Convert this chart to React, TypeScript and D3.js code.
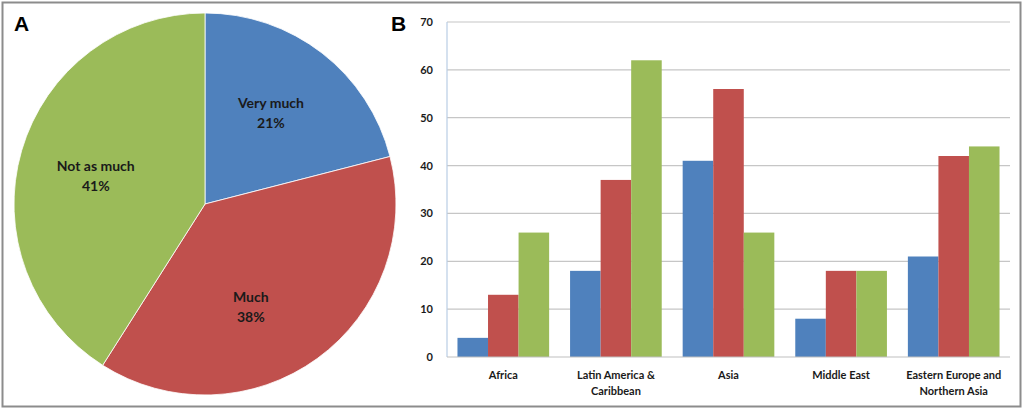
import { useEffect, useRef } from 'react';
import * as d3 from 'd3';

const pieLabels = ["Very much", "Much", "Not as much"];
const pieValues = [21, 38, 41];
const pieColors = ["#4f81bd", "#c0504d", "#9bbb59"];
// small angular nudge (degrees) for label placement, like Excel's best-fit
const pieLabelShift = [-2, 12, -2];

const regions = ["Africa", "Latin America & Caribbean", "Asia", "Middle East", "Eastern Europe and Northern Asia"];
const regionLines = [["Africa"], ["Latin America &", "Caribbean"], ["Asia"], ["Middle East"], ["Eastern Europe and", "Northern Asia"]];
const seriesVeryMuch = [4, 18, 41, 8, 21];
const seriesMuch = [13, 37, 56, 18, 42];
const seriesNotAsMuch = [26, 62, 26, 18, 44];
const yTicks = [0, 10, 20, 30, 40, 50, 60, 70];

const FONT = "Lato, 'Open Sans', sans-serif";

const App = () => {
    const ref = useRef<SVGSVGElement>(null);

    useEffect(() => {
        const svg = d3.select(ref.current);
        svg.selectAll("*").remove();

        // frame
        svg.append("rect")
            .attr("x", 2.5).attr("y", 2.5)
            .attr("width", 1018).attr("height", 404)
            .attr("fill", "#fff")
            .attr("stroke", "#8c8c8c")
            .attr("stroke-width", 2);

        // panel letters
        svg.append("text").attr("x", 14).attr("y", 31)
            .style("font-family", "Arial, 'Liberation Sans', sans-serif")
            .style("font-weight", "bold").style("font-size", "21px")
            .text("A");
        svg.append("text").attr("x", 391).attr("y", 31)
            .style("font-family", "Arial, 'Liberation Sans', sans-serif")
            .style("font-weight", "bold").style("font-size", "21px")
            .text("B");

        // ---- pie ----
        const r = 191;
        const pieG = svg.append("g").attr("transform", "translate(205,204)");
        const pie = d3.pie<number>().sort(null).value(d => d);
        const arcs = pie(pieValues);
        const arc = d3.arc<d3.PieArcDatum<number>>().innerRadius(0).outerRadius(r);

        pieG.selectAll("path")
            .data(arcs)
            .enter().append("path")
            .attr("d", arc)
            .attr("fill", (_d, i) => pieColors[i])
            .attr("stroke", "#fff")
            .attr("stroke-width", 0.8);

        const labelR = r * 0.59;
        arcs.forEach((a, i) => {
            const mid = (a.startAngle + a.endAngle) / 2 + pieLabelShift[i] * Math.PI / 180;
            const lx = Math.sin(mid) * labelR;
            const ly = -Math.cos(mid) * labelR;
            const t = pieG.append("text")
                .attr("text-anchor", "middle")
                .style("font-family", FONT)
                .style("font-weight", "bold")
                .style("font-size", "14px")
                .attr("fill", "#1a1a1a");
            t.append("tspan").attr("x", lx).attr("y", ly - 5).text(pieLabels[i]);
            t.append("tspan").attr("x", lx).attr("y", ly + 15).text(a.data + "%");
        });

        // ---- grouped bars ----
        const left = 447, right = 1010, top = 22, bottom = 357;
        const g = svg.append("g");

        const x0 = d3.scaleBand<string>().domain(regions).range([left, right])
            .paddingInner(0.186).paddingOuter(0.093);
        const series = [seriesVeryMuch, seriesMuch, seriesNotAsMuch];
        const x1 = d3.scaleBand<number>().domain([0, 1, 2]).range([0, x0.bandwidth()]);
        const y = d3.scaleLinear().domain([0, 70]).range([bottom, top]);

        g.selectAll(".grid")
            .data(yTicks.slice(1))
            .enter().append("line")
            .attr("x1", left).attr("x2", right)
            .attr("y1", d => y(d)).attr("y2", d => y(d))
            .attr("stroke", "#c6c6c6").attr("stroke-width", 1.2);

        regions.forEach((reg, i) => {
            series.forEach((s, k) => {
                g.append("rect")
                    .attr("x", (x0(reg) as number) + (x1(k) as number))
                    .attr("y", y(s[i]))
                    .attr("width", x1.bandwidth())
                    .attr("height", y(0) - y(s[i]))
                    .attr("fill", pieColors[k]);
            });
        });

        // axes lines
        g.append("line").attr("x1", left).attr("x2", left)
            .attr("y1", top).attr("y2", bottom)
            .attr("stroke", "#b9cde5").attr("stroke-width", 1.2);
        g.append("line").attr("x1", left).attr("x2", right)
            .attr("y1", bottom).attr("y2", bottom)
            .attr("stroke", "#bfbfbf").attr("stroke-width", 1.2);

        g.selectAll(".ytick")
            .data(yTicks)
            .enter().append("text")
            .attr("x", left - 14)
            .attr("y", d => y(d) + 4)
            .attr("text-anchor", "end")
            .style("font-family", FONT)
            .style("font-weight", "bold")
            .style("font-size", "11px")
            .attr("fill", "#1a1a1a")
            .text(d => d);

        regions.forEach((reg, i) => {
            const cx = (x0(reg) as number) + x0.bandwidth() / 2;
            const t = g.append("text")
                .attr("text-anchor", "middle")
                .style("font-family", FONT)
                .style("font-weight", "bold")
                .style("font-size", "11px")
                .attr("fill", "#1a1a1a");
            regionLines[i].forEach((line, j) => {
                t.append("tspan").attr("x", cx).attr("y", bottom + 22 + j * 16).text(line);
            });
        });
    }, []);

    return (
        <svg ref={ref} width={1024} height={410}
            style={{ position: 'absolute', left: 0, top: 0 }} />
    );
};

export default App;
